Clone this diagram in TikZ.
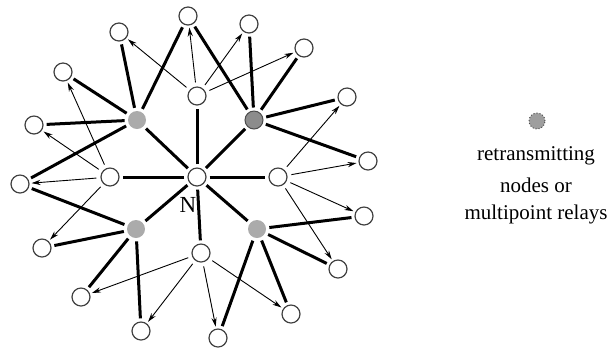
\documentclass[tikz,border=0pt]{standalone}
\usepackage{fontspec}
\setmainfont{Liberation Serif}
\usetikzlibrary{arrows.meta}
\begin{document}
\begin{tikzpicture}[x=0.5pt,y=-0.5pt,
  wnode/.style={circle,draw=black!75,line width=0.6pt,fill=white,minimum size=9pt,inner sep=0pt},
  gnode/.style={circle,fill=black!33,minimum size=9pt,inner sep=0pt},
  gdark/.style={circle,fill=black!45,draw=black!70,line width=0.5pt,minimum size=9pt,inner sep=0pt},
  strong/.style={line width=1.5pt,shorten <=1.5pt,shorten >=1.5pt},
  weak/.style={line width=0.45pt,-{Stealth[length=4.5pt,width=2.6pt]},shorten <=2pt,shorten >=1pt},
  legtext/.style={font=\fontsize{10.5}{12}\selectfont}]
\useasboundingbox (0,0) rectangle (613,350);
% center
\node[wnode] (N) at (197,177) {};
\node[font=\fontsize{11.5}{13}\selectfont] (Nl) at (188,205) {N};
% relays
\node[gnode] (G1) at (137,120) {};
\node[gdark] (G2) at (254,120) {};
\node[gnode] (G3) at (136,229) {};
\node[gnode] (G4) at (257,229) {};
% 2-hop inner white
\node[wnode] (A) at (197,96) {};
\node[wnode] (B) at (110,177) {};
\node[wnode] (C) at (278,177) {};
\node[wnode] (D) at (201,253) {};
% outer
\node[wnode] (o1) at (119,32) {};
\node[wnode] (o2) at (188,16) {};
\node[wnode] (o3) at (249,24) {};
\node[wnode] (o4) at (304,48) {};
\node[wnode] (o5) at (347,97) {};
\node[wnode] (o6) at (368,161) {};
\node[wnode] (o7) at (364,216) {};
\node[wnode] (o8) at (338,269) {};
\node[wnode] (o9) at (291,314) {};
\node[wnode] (o10) at (218,338) {};
\node[wnode] (o11) at (141,331) {};
\node[wnode] (o12) at (81,297) {};
\node[wnode] (o13) at (42,248) {};
\node[wnode] (o14) at (20,184) {};
\node[wnode] (o15) at (34,125) {};
\node[wnode] (o16) at (63,72) {};
% thick links N
\foreach \t in {G1,G2,G3,G4,A,B,C,D} \draw[strong] (N) -- (\t);
% relays to outer
\foreach \t in {o1,o2,o16,o15,o14} \draw[strong] (G1) -- (\t);
\foreach \t in {o2,o3,o4,o5,o6} \draw[strong] (G2) -- (\t);
\foreach \t in {o14,o13,o12,o11} \draw[strong] (G3) -- (\t);
\foreach \t in {o7,o8,o9,o10} \draw[strong] (G4) -- (\t);
% thin arrows
\foreach \t in {o1,o2,o3,o4} \draw[weak] (A) -- (\t);
\foreach \t in {o16,o15,o14,o13} \draw[weak] (B) -- (\t);
\foreach \t in {o5,o6,o7,o8} \draw[weak] (C) -- (\t);
\foreach \t in {o12,o11,o10,o9} \draw[weak] (D) -- (\t);
% legend
\node[circle,fill=black!38,draw=black!70,densely dotted,line width=0.5pt,minimum size=8pt,inner sep=0pt] (L) at (537,121) {};
\node[legtext] (t1) at (536,156) {retransmitting};
\node[legtext] (t2) at (536,185) {nodes or};
\node[legtext] (t3) at (536,214) {multipoint relays};
\end{tikzpicture}
\end{document}
